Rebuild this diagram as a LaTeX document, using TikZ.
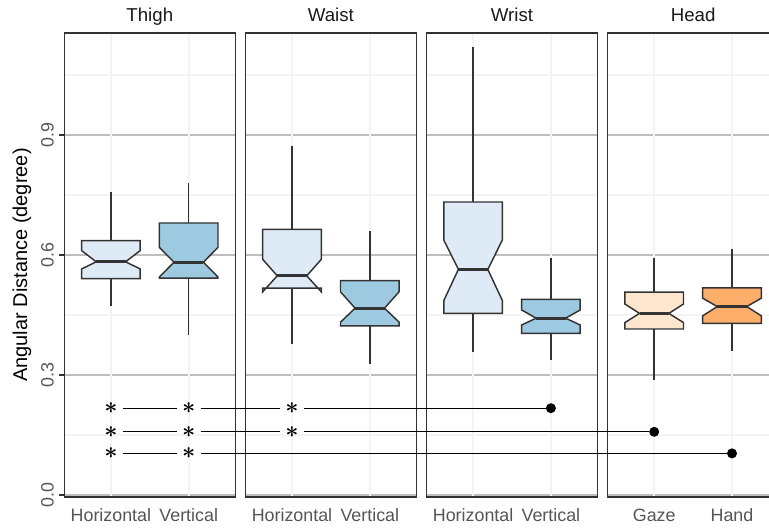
\documentclass[tikz,border=0pt]{standalone}
\usepackage{fontspec}
\setmainfont{Liberation Sans}

\definecolor{horfill}{HTML}{DEEBF7}
\definecolor{verfill}{HTML}{9ECAE1}
\definecolor{gazefill}{HTML}{FEE6CE}
\definecolor{handfill}{HTML}{FDAE6B}
\definecolor{edge}{HTML}{333333}
\definecolor{major}{HTML}{BEBEBE}
\definecolor{minor}{HTML}{F4F4F4}
\definecolor{ticktext}{HTML}{555555}

\tikzset{
  panelframe/.style={draw=edge, line width=1.1pt},
  majorgrid/.style={draw=major, line width=1.3pt},
  minorgrid/.style={draw=minor, line width=0.8pt},
  vgrid/.style={draw=minor, line width=1.2pt},
  boxedge/.style={draw=edge, line width=1.1pt},
  whisk/.style={draw=edge, line width=1.1pt},
  median/.style={draw=edge, line width=2.4pt},
  tickmark/.style={draw=edge, line width=1pt},
  sigline/.style={draw=black, line width=0.9pt},
  sigstar/.style={rectangle, inner sep=0pt, minimum width=17.5pt, font=\fontsize{17}{17}\selectfont\boldmath},
  sigdot/.style={circle, fill=black, inner sep=0pt, minimum size=7.5pt},
  striplab/.style={font=\fontsize{14}{14}\selectfont, text=black!90, anchor=base},
  xticklab/.style={font=\fontsize{13.4}{13.4}\selectfont, text=ticktext, anchor=base},
  yticklab/.style={font=\fontsize{13.4}{13.4}\selectfont, text=ticktext, rotate=90},
}

% center x, fill, lower whisker, q1, notch low, median, notch high, q3, upper whisker
\newcommand{\notchbox}[9]{%
  \draw[whisk] (#1,#3) -- (#1,#4) (#1,#8) -- (#1,#9);
  \filldraw[boxedge, fill=#2] ({#1-29.3},#8) -- ({#1-29.3},#7) -- ({#1-14.7},#6)
    -- ({#1-29.3},#5) -- ({#1-29.3},#4) -- ({#1+29.3},#4) -- ({#1+29.3},#5)
    -- ({#1+14.7},#6) -- ({#1+29.3},#7) -- ({#1+29.3},#8) -- cycle;
  \draw[median] ({#1-14.7},#6) -- ({#1+14.7},#6);
}

\begin{document}
\begin{tikzpicture}[x=0.75pt, y=300pt]
\clip (0,-0.0825) rectangle (769,1.2375);

% Panels
\foreach \lab [count=\k from 0] in {Thigh,Waist,Wrist,Head} {
  \pgfmathsetmacro\pl{64.3+181.1*\k}
  \foreach \v in {0.15,0.45,0.75,1.05} \draw[minorgrid] (\pl,\v) -- ++(171,0);
  \foreach \v in {0,0.3,0.6,0.9} \draw[majorgrid] (\pl,\v) -- ++(171,0);
  \foreach \dx in {46.6,124.4} \draw[vgrid] ({\pl+\dx},-0.005) -- ({\pl+\dx},1.155);
  \node[striplab] (strip\k) at ({\pl+85.5},1.1825) {\lab};
}

% Boxes
\notchbox{110.9}{horfill}{0.4725}{0.541}{0.565}{0.583}{0.611}{0.636}{0.758}
\notchbox{188.7}{verfill}{0.400}{0.542}{0.545}{0.582}{0.619}{0.680}{0.780}
\notchbox{292.0}{horfill}{0.3775}{0.517}{0.508}{0.548}{0.589}{0.664}{0.873}
\notchbox{369.8}{verfill}{0.327}{0.423}{0.432}{0.467}{0.508}{0.536}{0.659}
\notchbox{473.1}{horfill}{0.357}{0.454}{0.486}{0.564}{0.6375}{0.7325}{1.121}
\notchbox{550.9}{verfill}{0.3375}{0.404}{0.425}{0.442}{0.4625}{0.489}{0.592}
\notchbox{654.2}{gazefill}{0.2875}{0.415}{0.431}{0.454}{0.4775}{0.507}{0.593}
\notchbox{732.0}{handfill}{0.361}{0.429}{0.448}{0.471}{0.492}{0.518}{0.614}

\foreach \k in {0,...,3}
  \draw[panelframe] ({64.3+181.1*\k},-0.005) rectangle ++(171,1.16);

% Axis
\foreach \v [count=\i] in {0.0,0.3,0.6,0.9} {
  \draw[tickmark] (59,\v) -- (64.3,\v);
  \node[yticklab] (ytick\i) at (47.5,\v) {\v};
}
\node[rotate=90, font=\fontsize{15}{15}\selectfont] (ytitle) at (22,0.575) {Angular Distance (degree)};

\foreach \x/\lab [count=\i] in {110.9/Horizontal,188.7/Vertical,292.0/Horizontal,369.8/Vertical,
    473.1/Horizontal,550.9/Vertical,654.2/Gaze,732.0/Hand}
  \node[xticklab] (xtick\i) at (\x,-0.0667) {\lab};

% Significance
\node[sigstar] (r1a) at (110.9,0.217) {$\ast$};
\node[sigstar] (r1b) at (188.7,0.217) {$\ast$};
\node[sigstar] (r1c) at (292.0,0.217) {$\ast$};
\node[sigdot] (r1d) at (550.9,0.217) {};
\node[sigstar] (r2a) at (110.9,0.158) {$\ast$};
\node[sigstar] (r2b) at (188.7,0.158) {$\ast$};
\node[sigstar] (r2c) at (292.0,0.158) {$\ast$};
\node[sigdot] (r2d) at (654.2,0.158) {};
\node[sigstar] (r3a) at (110.9,0.104) {$\ast$};
\node[sigstar] (r3b) at (188.7,0.104) {$\ast$};
\node[sigdot] (r3d) at (732.0,0.104) {};

\draw[sigline] (r1a) -- (r1b) (r1b) -- (r1c) (r1c) -- (r1d);
\draw[sigline] (r2a) -- (r2b) (r2b) -- (r2c) (r2c) -- (r2d);
\draw[sigline] (r3a) -- (r3b) (r3b) -- (r3d);

\end{tikzpicture}
\end{document}
